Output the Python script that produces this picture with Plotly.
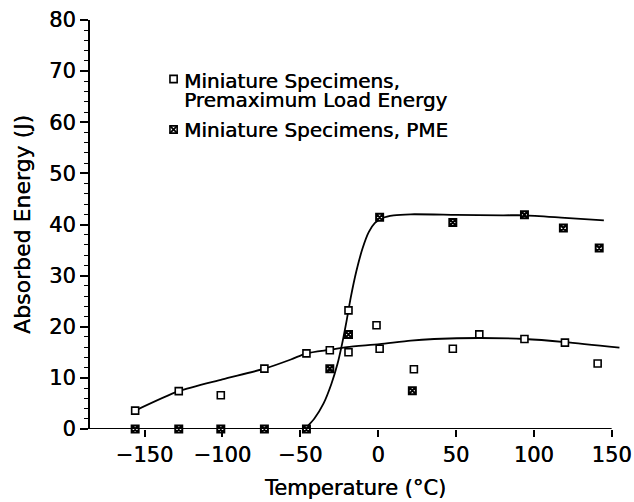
import plotly.graph_objects as go

# Miniature specimens: premaximum load energy (open squares)
temp_pm = [-156, -128, -101, -73, -46, -31, -19, -19, -1, 1, 23, 48, 65, 94, 120, 141]
energy_pm = [3.6, 7.4, 6.6, 11.8, 14.8, 15.4, 23.2, 15.0, 20.3, 15.7, 11.7, 15.7, 18.5, 17.6, 16.9, 12.8]

# Miniature specimens: PME (crossed squares)
temp_pme = [-156, -128, -101, -73, -46, -31, -19, 1, 22, 48, 94, 119, 142]
energy_pme = [0, 0, 0, 0, 0, 11.8, 18.5, 41.4, 7.5, 40.4, 41.9, 39.3, 35.4]

# Fitted curves, sampled at selected temperatures
fit_pm_t = [-156, -128, -100, -73, -56, -46, -31, -20, 1, 21, 36, 65, 94, 120, 155]
fit_pm_e = [3.6, 7.4, 9.7, 11.8, 13.6, 14.8, 15.5, 16.0, 16.6, 17.3, 17.6, 17.8, 17.6, 17.0, 15.9]

fit_pme_t = [-47, -41, -35, -30, -26, -23, -20.5, -17.5, -14, -10, -6, -2, 3, 10, 21, 50, 80, 94, 120, 145]
fit_pme_e = [0, 2.0, 5.0, 8.8, 12.8, 16.8, 20.7, 25.8, 30.8, 35.3, 38.5, 40.3, 41.3, 41.8, 42.0, 41.9, 41.8, 41.8, 41.3, 40.8]

x_ticks = [-150, -100, -50, 0, 50, 100, 150]
y_ticks = [0, 10, 20, 30, 40, 50, 60, 70, 80]

legend_pm = ["Miniature Specimens,", "Premaximum Load Energy"]
legend_pme = "Miniature Specimens, PME"

FONT = "DejaVu Sans"
HEAVY = "0.4px 0 0 #000"
W, H = 634, 502
L, R, T, B = 90, 13.4, 20, 73
PW, PH = W - L - R, H - T - B


def px(xp):
    return (xp - L) / PW


def py(yp):
    return (H - B - yp) / PH


def font(size):
    return dict(family=FONT, size=size, color="black", shadow=HEAVY)


fig = go.Figure()

for t, e in [(fit_pm_t, fit_pm_e), (fit_pme_t, fit_pme_e)]:
    fig.add_trace(go.Scatter(x=t, y=e, mode="lines",
                             line=dict(color="black", width=1.8, shape="spline", smoothing=0.7),
                             showlegend=False, hoverinfo="skip"))

fig.add_trace(go.Scatter(x=temp_pm, y=energy_pm, mode="markers", cliponaxis=False,
                         marker=dict(symbol="square", size=7, color="white",
                                     line=dict(color="black", width=1.6)),
                         showlegend=False))
fig.add_trace(go.Scatter(x=temp_pme, y=energy_pme, mode="markers", cliponaxis=False,
                         marker=dict(symbol="square-x", size=7, color="white",
                                     line=dict(color="black", width=2)),
                         showlegend=False))

# x axis line, ending at the last tick
fig.add_shape(type="line", xref="x", yref="y", x0=-185, x1=150, y0=0, y1=0,
              line=dict(color="black", width=2))

# legend symbols
s = 3.6
for yc, crossed in [(79, False), (129.5, True)]:
    x0, x1 = px(173.5 - s), px(173.5 + s)
    y0, y1 = py(yc + s), py(yc - s)
    fig.add_shape(type="rect", xref="paper", yref="paper", x0=x0, x1=x1, y0=y0, y1=y1,
                  line=dict(color="black", width=1.6), fillcolor="white")
    if crossed:
        fig.add_shape(type="line", xref="paper", yref="paper", x0=x0, x1=x1, y0=y0, y1=y1,
                      line=dict(color="black", width=1.8))
        fig.add_shape(type="line", xref="paper", yref="paper", x0=x0, x1=x1, y0=y1, y1=y0,
                      line=dict(color="black", width=1.8))

# legend text
for text, yc in [(legend_pm[0], 81), (legend_pm[1], 100), (legend_pme, 129.5)]:
    fig.add_annotation(text=text, xref="paper", yref="paper", x=px(182), y=py(yc),
                       xanchor="left", yanchor="middle", showarrow=False,
                       font=font(20))

fig.update_xaxes(range=[-185, 156], tickvals=x_ticks, ticks="outside", ticklen=7,
                 tickwidth=1.5, tickcolor="black", showline=False, showgrid=False,
                 zeroline=False, automargin=False, tickfont=font(21),
                 title=dict(text="Temperature (°C)", standoff=14, font=font(21)))
fig.update_yaxes(range=[0, 80], tickvals=y_ticks, ticks="outside", ticklen=8,
                 tickwidth=1.5, tickcolor="black", showline=True, linewidth=2,
                 linecolor="black", showgrid=False, zeroline=False, automargin=False,
                 minor=dict(dtick=2, ticks="outside", ticklen=4, tickwidth=1,
                            tickcolor="black"),
                 tickfont=font(21),
                 title=dict(text="Absorbed Energy (J)", standoff=12, font=font(22)))

fig.update_layout(width=W, height=H, margin=dict(l=L, r=R, t=T, b=B),
                  paper_bgcolor="white", plot_bgcolor="white", showlegend=False)

fig.write_html("out.html")
